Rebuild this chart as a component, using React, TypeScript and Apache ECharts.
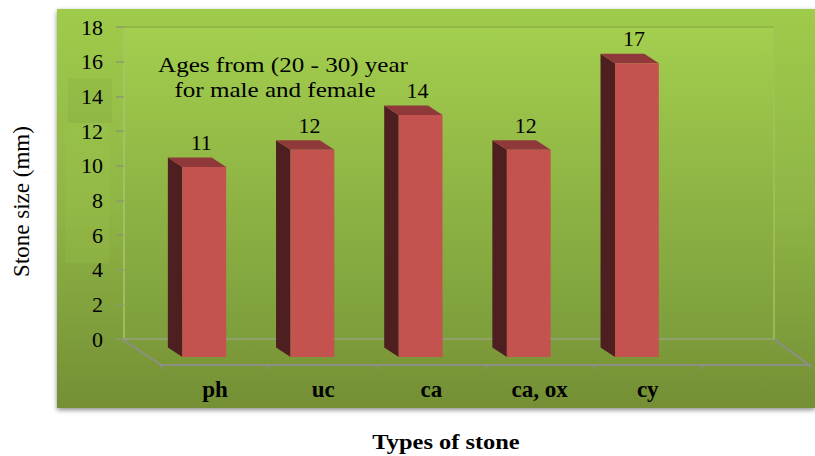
import React, { useEffect, useRef } from "react";
import * as echarts from "echarts";

const categories = ["ph", "uc", "ca", "ca, ox", "cy", ""];
const stoneSizes = [11, 12, 14, 12, 17];
const yMax = 18;
const yStep = 2;
const serif = "Liberation Serif";

const FRONT = "#c4534f";
const SIDE = "#4e1f20";
const TOP = "#8f393b";

function linear(stops: [number, string][]) {
  return new echarts.graphic.LinearGradient(0, 0, 0, 1, stops.map(([offset, color]) => ({ offset, color })));
}

function renderBar(params: any, api: any) {
  const [cx, y1] = api.coord([api.value(0), api.value(1)]);
  const [, y0] = api.coord([api.value(0), 0]);
  const band = api.size([1, 0])[0];
  const w = band * 0.405;
  const x1 = cx - band * 0.1 - w / 2;
  const x2 = x1 + w;
  const dx = -14.5;
  const dy = -9.5;
  return {
    type: "group",
    children: [
      { type: "polygon", shape: { points: [[x1, y1], [x1, y0], [x1 + dx, y0 + dy], [x1 + dx, y1 + dy]] }, style: { fill: SIDE } },
      { type: "polygon", shape: { points: [[x1, y1], [x2, y1], [x2 + dx, y1 + dy], [x1 + dx, y1 + dy]] }, style: { fill: TOP } },
      { type: "rect", shape: { x: x1, y: y1, width: w, height: y0 - y1 }, style: { fill: FRONT } },
      {
        type: "text",
        x: x1 + w / 2 - 3,
        y: y1 + dy - 4,
        style: { text: String(api.value(1)), fill: "#000", font: `22px "${serif}"`, textAlign: "center", textVerticalAlign: "bottom" },
      },
    ],
  };
}

export default function App() {
  const ref = useRef<HTMLDivElement>(null);
  useEffect(() => {
    const chart = echarts.init(ref.current!, undefined, { renderer: "svg" });
    chart.setOption({
      animation: false,
      grid: [
        { left: 161, width: 649, top: 46, height: 311, outerBoundsMode: "none" },
        {
          left: 124, width: 650, top: 27, height: 312, outerBoundsMode: "none", show: true, borderWidth: 0,
          backgroundColor: linear([[0, "#a3cf4e"], [0.45, "#92b846"], [1, "#7d9e3c"]]),
        },
      ],
      xAxis: [
        {
          type: "category", gridIndex: 0, data: categories, offset: 8,
          axisLine: { onZero: false, lineStyle: { color: "#8c8f84", width: 2 } },
          axisTick: { show: true, length: 4, alignWithLabel: false, lineStyle: { color: "#8c8f84", width: 1.5 } },
          axisLabel: { margin: 13, color: "#000", fontFamily: serif, fontSize: 23, fontWeight: "bold", interval: 0 },
        },
        {
          type: "category", gridIndex: 1, data: categories,
          axisLine: { lineStyle: { color: "#98a17e", width: 1.5 } },
          axisTick: { show: false }, axisLabel: { show: false },
        },
      ],
      yAxis: [
        {
          type: "value", gridIndex: 0, min: 0, max: yMax, interval: yStep, name: "Stone size (mm)", nameLocation: "middle", nameGap: 128,
          nameTextStyle: { color: "#000", fontFamily: serif, fontSize: 23 },
          axisLine: { show: false }, axisTick: { show: false }, axisLabel: { show: false }, splitLine: { show: false },
        },
        {
          type: "value", gridIndex: 1, min: 0, max: yMax, interval: yStep,
          axisLine: { show: true, lineStyle: { color: "#a9c46f", width: 1.5 } },
          axisTick: { show: true, length: 8, lineStyle: { color: "#8c9a6a", width: 1.5 } },
          axisLabel: { margin: 21, color: "#000", fontFamily: serif, fontSize: 22 },
          splitLine: { show: false },
        },
      ],
      series: [
        {
          type: "custom", xAxisIndex: 0, yAxisIndex: 0, clip: false, z: 5,
          renderItem: renderBar,
          encode: { x: 0, y: 1 },
          data: stoneSizes.map((v, i) => [i, v]),
        },
      ],
      graphic: [
        {
          type: "rect", z: -100, shape: { x: 57, y: 9, width: 758, height: 399 },
          style: { fill: linear([[0, "#9fcb4b"], [0.5, "#8fb545"], [1, "#748f35"]]), shadowBlur: 5, shadowColor: "rgba(0,0,0,0.45)", shadowOffsetY: 2 },
        },
        { type: "rect", z: -90, shape: { x: 68, y: 78, width: 44, height: 45 }, style: { fill: "rgba(100,130,50,0.1)" } },
        { type: "rect", z: -90, shape: { x: 65, y: 123, width: 44, height: 140 }, style: { fill: "rgba(175,215,85,0.12)" } },
        { type: "line", z: 2, shape: { x1: 122, y1: 339, x2: 161, y2: 365 }, style: { stroke: "#8c8f84", lineWidth: 2 } },
        { type: "line", z: 2, shape: { x1: 774, y1: 339, x2: 809, y2: 365 }, style: { stroke: "#8c8f84", lineWidth: 2 } },
        { type: "line", z: 2, shape: { x1: 124, y1: 27, x2: 774, y2: 27 }, style: { stroke: "#8fb044", lineWidth: 1.5 } },
        { type: "line", z: 2, shape: { x1: 774, y1: 27, x2: 774, y2: 339 }, style: { stroke: "#a3c25a", lineWidth: 1.5 } },
        { type: "text", z: 10, x: 283, y: 65, scaleX: 1.14, style: { text: "Ages from (20 - 30) year", fill: "#000", font: `22px "${serif}"`, textAlign: "center", textVerticalAlign: "middle" } },
        { type: "text", z: 10, x: 275, y: 90, scaleX: 1.14, style: { text: "for male and female", fill: "#000", font: `22px "${serif}"`, textAlign: "center", textVerticalAlign: "middle" } },
        { type: "text", z: 10, x: 446, y: 441, scaleX: 1.11, style: { text: "Types of stone", fill: "#000", font: `bold 22px "${serif}"`, textAlign: "center", textVerticalAlign: "middle" } },
      ],
    });
    return () => chart.dispose();
  }, []);
  return <div ref={ref} style={{ position: "fixed", left: 0, top: 0, width: 815, height: 456, background: "#fff" }} />;
}
